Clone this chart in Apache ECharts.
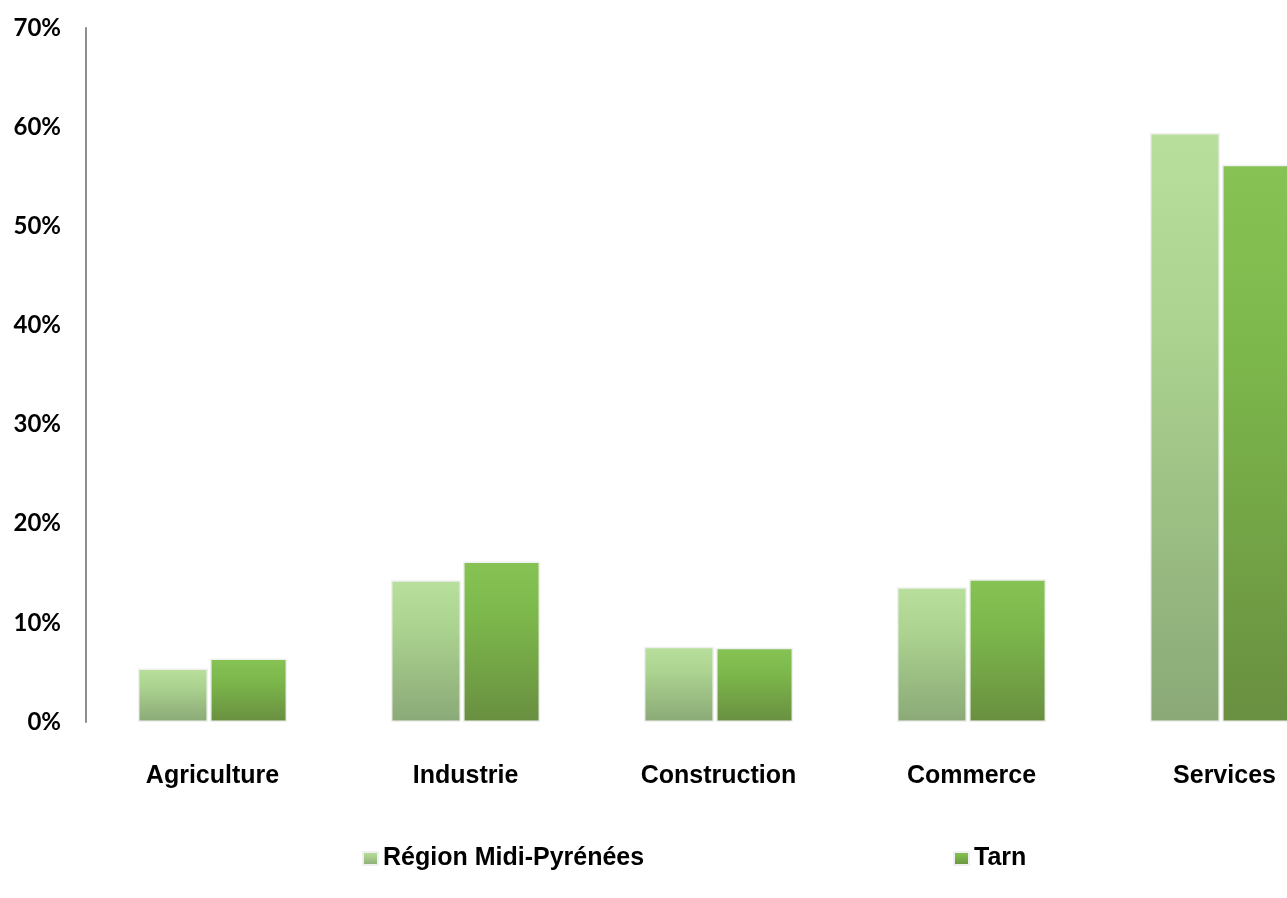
<!DOCTYPE html>
<html>
<head>
<meta charset="utf-8">
<script src="https://cdn.jsdelivr.net/npm/echarts@6/dist/echarts.min.js"></script>
<style>
html,body{margin:0;padding:0;background:#fff;overflow:hidden;}
#chart{width:1360px;height:898px;}
</style>
</head>
<body>
<div id="chart"></div>
<script>
const categories = ['Agriculture', 'Industrie', 'Construction', 'Commerce', 'Services'];
const seriesNames = ['Région Midi-Pyrénées', 'Tarn'];
const regionValues = [5.4, 14.3, 7.6, 13.6, 59.4];
const tarnValues = [6.4, 16.2, 7.5, 14.4, 56.2];
const yTicks = [0, 10, 20, 30, 40, 50, 60, 70];

const labelFont = '"Liberation Sans", Arial, sans-serif';

function grad(top, mid, bottom) {
  return new echarts.graphic.LinearGradient(0, 0, 0, 1, [
    { offset: 0, color: top },
    { offset: 0.35, color: mid },
    { offset: 1, color: bottom }
  ]);
}

const chart = echarts.init(document.getElementById('chart'), null, { renderer: 'canvas' });
chart.setOption({
  backgroundColor: '#ffffff',
  animation: false,
  grid: { left: 86, top: 28, width: 1265, bottom: 176, containLabel: false },
  legend: [
    {
      data: [seriesNames[0]], left: 362, top: 846, padding: 0, icon: 'rect', itemWidth: 15, itemHeight: 13,
      textStyle: { fontFamily: labelFont, fontWeight: 'bold', fontSize: 25, color: '#000' }
    },
    {
      data: [seriesNames[1]], left: 953, top: 846, padding: 0, icon: 'rect', itemWidth: 15, itemHeight: 13,
      textStyle: { fontFamily: labelFont, fontWeight: 'bold', fontSize: 25, color: '#000' }
    }
  ],
  xAxis: {
    type: 'category',
    data: categories,
    axisLine: { show: false },
    axisTick: { show: false },
    axisLabel: { margin: 42, fontFamily: labelFont, fontWeight: 'bold', fontSize: 25, color: '#000', interval: 0 }
  },
  yAxis: {
    type: 'value',
    min: yTicks[0],
    max: yTicks[yTicks.length - 1],
    interval: 10,
    axisLine: { show: true, lineStyle: { color: '#8e8e8e', width: 2 } },
    axisTick: { show: false },
    splitLine: { show: false },
    axisLabel: { formatter: '{value}%', margin: 25, fontFamily: 'Lato, "Noto Sans", sans-serif', fontWeight: 'bold', fontSize: 24, color: '#000' }
  },
  series: [
    {
      name: seriesNames[0], type: 'bar', data: regionValues, barWidth: 70, barGap: '3%',
      itemStyle: { color: grad('#b8df9c', '#abd28f', '#8aa977'), borderColor: '#f0f0f0', borderWidth: 1.5 }
    },
    {
      name: seriesNames[1], type: 'bar', data: tarnValues, barWidth: 77, barGap: '3%',
      itemStyle: { color: grad('#86c354', '#7cb74b', '#698f40'), borderColor: '#f0f0f0', borderWidth: 1.5 }
    }
  ]
});
</script>
</body>
</html>
